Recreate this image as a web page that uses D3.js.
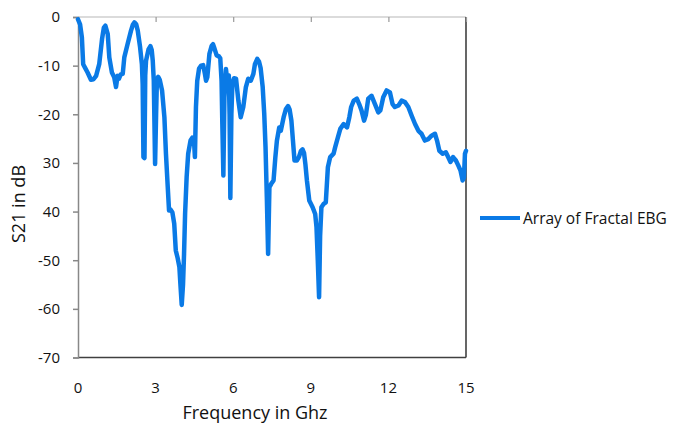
<!DOCTYPE html>
<html>
<head>
<meta charset="utf-8">
<script src="https://cdn.jsdelivr.net/npm/d3@7"></script>
<style>
  html, body { margin: 0; padding: 0; background: #fff; }
  svg { display: block; }
  text { font-family: "Open Sans", "Noto Sans", sans-serif; fill: #111; }
</style>
</head>
<body>
<script>
// Transmission coefficient S21 of the fractal EBG array
const freq = [
  0.00, 0.08, 0.15, 0.20, 0.28, 0.37, 0.50, 0.60, 0.70, 0.82, 0.93, 1.00, 1.06, 1.15, 1.21, 1.31,
  1.40, 1.47, 1.53, 1.58, 1.65, 1.73, 1.79, 1.92, 2.05, 2.12, 2.18, 2.25, 2.31, 2.40, 2.47, 2.50,
  2.53, 2.57, 2.60, 2.63, 2.73, 2.80, 2.85, 2.89, 2.93, 2.98, 3.02, 3.05, 3.10, 3.16, 3.25, 3.34,
  3.40, 3.47, 3.52, 3.58, 3.65, 3.72, 3.78, 3.85, 3.92, 3.96, 4.01, 4.06, 4.10, 4.14, 4.20, 4.26,
  4.35, 4.42, 4.48, 4.52, 4.56, 4.61, 4.68, 4.76, 4.84, 4.90, 4.95, 5.00, 5.08, 5.17, 5.22, 5.26,
  5.36, 5.45, 5.50, 5.55, 5.58, 5.62, 5.66, 5.72, 5.77, 5.83, 5.86, 5.89, 5.93, 5.97, 6.03, 6.11,
  6.20, 6.29, 6.39, 6.49, 6.58, 6.68, 6.78, 6.84, 6.93, 7.00, 7.06, 7.14, 7.20, 7.25, 7.30, 7.35,
  7.40, 7.47, 7.56, 7.63, 7.69, 7.78, 7.84, 7.95, 8.04, 8.12, 8.18, 8.25, 8.31, 8.37, 8.46, 8.54,
  8.62, 8.68, 8.74, 8.79, 8.85, 8.94, 9.07, 9.17, 9.22, 9.27, 9.32, 9.36, 9.41, 9.50, 9.58, 9.66,
  9.75, 9.88, 9.94, 10.05, 10.14, 10.27, 10.40, 10.49, 10.56, 10.66, 10.78, 10.87, 10.96, 11.06, 11.13, 11.22,
  11.35, 11.48, 11.61, 11.69, 11.80, 11.93, 12.06, 12.16, 12.25, 12.39, 12.51, 12.64, 12.77, 12.90, 13.03, 13.16,
  13.28, 13.41, 13.54, 13.67, 13.80, 13.88, 13.97, 14.10, 14.22, 14.31, 14.40, 14.50, 14.61, 14.70, 14.79, 14.87,
  14.92, 14.96, 15.00
];
const s21 = [
  -0.5, -1.5, -4.2, -9.7, -10.5, -11.4, -12.9, -12.8, -12.1, -9.7, -4.5, -2.2, -1.8, -3.5, -8.3, -11.4,
  -12.4, -14.4, -12.1, -12.7, -11.8, -11.7, -8.3, -5.5, -2.8, -1.6, -1.1, -1.5, -2.8, -6.2, -9.7, -13.8,
  -28.8, -29.0, -12.0, -9.0, -6.6, -6.0, -6.8, -9.0, -13.1, -30.2, -19.9, -13.1, -12.3, -12.9, -15.1, -20.6,
  -28.1, -35.0, -39.8, -39.6, -40.2, -42.5, -48.0, -49.5, -51.4, -55.0, -59.2, -55.0, -48.7, -40.5, -32.9, -28.1,
  -25.4, -24.8, -25.0, -28.8, -18.5, -13.1, -10.6, -10.0, -9.9, -11.5, -13.1, -12.4, -7.6, -5.9, -5.6, -6.2,
  -7.9, -8.1, -8.5, -13.1, -22.0, -32.6, -16.5, -10.7, -13.1, -12.0, -20.0, -37.2, -20.0, -13.5, -12.6, -12.7,
  -17.2, -20.6, -18.5, -14.4, -12.7, -13.1, -11.7, -9.7, -8.6, -9.2, -10.5, -14.4, -19.9, -26.8, -37.0, -48.7,
  -35.0, -34.3, -33.6, -28.8, -25.4, -22.7, -23.4, -20.6, -18.9, -18.3, -19.0, -21.3, -25.4, -29.5, -29.5, -28.8,
  -27.5, -27.2, -28.0, -30.2, -33.6, -37.7, -39.1, -40.5, -43.2, -50.0, -57.6, -45.0, -39.1, -38.4, -38.1, -30.9,
  -28.8, -28.1, -26.8, -24.7, -23.0, -22.0, -22.7, -20.6, -18.5, -17.2, -16.8, -17.9, -19.2, -21.3, -20.1, -16.8,
  -16.2, -17.9, -19.6, -19.2, -16.5, -15.1, -15.5, -17.9, -18.5, -18.2, -17.2, -17.5, -18.5, -20.3, -22.0, -23.4,
  -24.0, -25.4, -25.1, -24.4, -24.0, -25.4, -27.5, -28.1, -27.8, -28.8, -29.8, -28.8, -29.5, -30.5, -31.6, -33.6,
  -33.0, -28.1, -27.5
];

const xTicks = [0, 3, 6, 9, 12, 15];
const yTicks = [0, -10, -20, -30, -40, -50, -60, -70];
const yTickLabels = ["0", "-10", "-20", "30", "40", "-50", "-60", "-70"];
const seriesName = "Array of Fractal EBG";
const xTitle = "Frequency in Ghz";
const yTitle = "S21 in dB";

const W = 681, H = 425;
const plot = { left: 78, right: 466, top: 17, bottom: 357.5 };
const lineColor = "#0a7ae6";

const svg = d3.select("body").append("svg").attr("width", W).attr("height", H);

const x = d3.scaleLinear().domain([0, 15]).range([plot.left, plot.right]);
const y = d3.scaleLinear().domain([0, -70]).range([plot.top, plot.bottom]);

// frame: light top edge, dark right and bottom edges
svg.append("line").attr("x1", plot.left).attr("x2", plot.right).attr("y1", plot.top).attr("y2", plot.top)
  .attr("stroke", "#b8b8b8").attr("stroke-width", 1.2);
svg.append("line").attr("x1", plot.right).attr("x2", plot.right).attr("y1", plot.top).attr("y2", plot.bottom)
  .attr("stroke", "#404040").attr("stroke-width", 1.6);
svg.append("line").attr("x1", plot.left).attr("x2", plot.right).attr("y1", plot.bottom).attr("y2", plot.bottom)
  .attr("stroke", "#404040").attr("stroke-width", 1.6);

// y axis with outward ticks
const yAxis = d3.axisLeft(y).tickValues(yTicks).tickSize(5).tickPadding(13)
  .tickFormat((d, i) => yTickLabels[i]);
const gy = svg.append("g").attr("transform", `translate(${plot.left},0)`).call(yAxis);
gy.select(".domain").attr("stroke", "#888").attr("stroke-width", 1.5);
gy.selectAll(".tick line").attr("stroke", "#888").attr("stroke-width", 1.5);
gy.selectAll(".tick text").attr("font-size", 15).attr("font-family", "Open Sans").attr("fill", "#111");

// x axis crosses at 0 dB (top); ticks point into the plot, labels sit below the plot
const xAxis = d3.axisBottom(x).tickValues(xTicks).tickSize(5).tickFormat("");
const gx = svg.append("g").attr("transform", `translate(0,${plot.top})`).call(xAxis);
gx.select(".domain").remove();
gx.selectAll(".tick line").attr("stroke", "#999").attr("stroke-width", 1.2);

svg.append("g").selectAll("text").data(xTicks).join("text")
  .attr("x", d => x(d)).attr("y", 393)
  .attr("text-anchor", "middle").attr("font-size", 15)
  .text(d => d);

// curve
const line = d3.line().x((d, i) => x(freq[i])).y(d => y(d)).curve(d3.curveLinear);
svg.append("path").datum(s21)
  .attr("d", line).attr("fill", "none")
  .attr("stroke", lineColor).attr("stroke-width", 4.5)
  .attr("stroke-linejoin", "round").attr("stroke-linecap", "round");

// titles
svg.append("text").attr("x", 255).attr("y", 419).attr("text-anchor", "middle")
  .attr("font-size", 18).text(xTitle);
svg.append("text").attr("transform", `translate(25,204) rotate(-90)`)
  .attr("text-anchor", "middle").attr("font-size", 18).text(yTitle);

// legend
svg.append("line").attr("x1", 480).attr("x2", 520).attr("y1", 218).attr("y2", 218)
  .attr("stroke", lineColor).attr("stroke-width", 4);
svg.append("text").attr("x", 523).attr("y", 223.5).attr("font-size", 15.5).text(seriesName);
</script>
</body>
</html>
